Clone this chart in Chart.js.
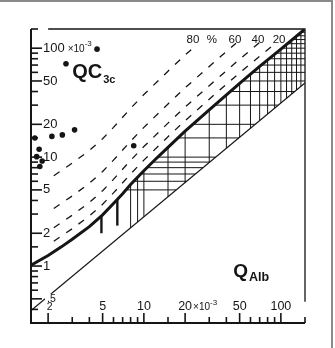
<!DOCTYPE html>
<html><head><meta charset="utf-8">
<script src="https://cdn.jsdelivr.net/npm/chart.js@4/dist/chart.umd.min.js"></script>
<style>html,body{margin:0;padding:0;background:#fff;overflow:hidden}</style>
</head><body>
<canvas id="c" width="335" height="348" style="display:block;width:335px;height:348px"></canvas>
<script>
// ---- data ----
const Q_ALB_TICKS = [1.5,2,3,4,5,6,7,8,9,10,15,20,30,40,50,60,70,80,90,100,150];
const Q_C3C_TICKS = [0.3,0.4,0.5,0.6,0.7,0.8,0.9,1,1.5,2,3,4,5,6,7,8,9,10,15,20,30,40,50,60,70,80,90,100,150];
const X_LABELS = [2,5,10,20,50,100];
const X_LABEL_TEXT = ["2","5","10","20","50","100"];
const Y_LABELS = [0.5,1,2,5,10,20,50,100];
const Y_LABEL_TEXT = [".5","1","2","5","10","20","50","100"];

const thickX = [1.5,2,2.5,3,4,5,6,7,8,10,12,15,20,30,50,70,100,148];
const thickY = [1.02,1.25,1.5,1.76,2.3,2.95,3.75,4.6,5.6,7.5,9.4,12.3,17.3,27.2,47.5,68,98,148];
const lowerX = [1.5,150];
const lowerY = [0.39,48];

const dash20X = [2.2,3,4,5,6,8,10,15,20,30,50,92];
const dash20Y = [1.69,2.2,2.88,3.69,4.69,7.0,9.38,15.4,21.6,34.0,59.4,112];
const dash40X = [2.2,3,4,5,6,8,10,15,20,30,50,70];
const dash40Y = [2.25,2.93,3.83,4.92,6.25,9.33,12.5,20.5,28.8,45.3,79.2,113];
const dash60X = [2.2,3,4,5,6,8,10,15,20,30,47];
const dash60Y = [3.38,4.4,5.75,7.38,9.38,14,18.75,30.75,43.25,68,111];
const dash80X = [2.2,3,4,5,6,8,10,15,20,24];
const dash80Y = [6.75,8.8,11.5,14.75,18.75,28,37.5,61.5,86.5,106];

const dotX = [4.55,2.70,1.60,2.13,2.54,3.12,1.72,1.65,1.81,1.74,8.43];
const dotY = [98,72,15.0,15.5,16.0,17.8,11.8,10.1,9.2,8.2,12.7];

const barX = [4.9,6.4];
const barBottom = [2.0,2.35];

const hatchX = [8,9,10,15,20,30,40,50,60,70,80,90,100,110,120,130,140];
const hatchY = [5,6,7,8,9,10,15,20,30,40,50,60,70,80,90,100,110,120,130,140];

const pctText = ["80","%","60","40","20"];
const pctX = [22.8,31.4,46.2,68,97];
const pctY = 119;

const X_MIN = 1.5, X_MAX = 150, Y_MIN = 0.3, Y_MAX = 150;

// ---- helpers ----
const L = Math.log10;
function interpLog(xs, ys, v){
  let i = 0;
  if (v <= xs[0]) i = 0;
  else if (v >= xs[xs.length-1]) i = xs.length-2;
  else { while (i < xs.length-2 && xs[i+1] < v) i++; }
  const t = (L(v)-L(xs[i]))/(L(xs[i+1])-L(xs[i]));
  return Math.pow(10, L(ys[i]) + t*(L(ys[i+1])-L(ys[i])));
}
const pts = (xs, ys) => xs.map((x,i)=>({x, y: ys[i]}));
const ink = '#151515';

const datasets = [];
datasets.push({data: pts(dotX, dotY), showLine:false, pointRadius:2.8, pointBackgroundColor:ink, pointBorderWidth:0, order:0});
datasets.push({data: pts(thickX, thickY), showLine:true, borderColor:ink, borderWidth:3, pointRadius:0, order:1});
barX.forEach((bx,i)=>{
  datasets.push({data:[{x:bx,y:barBottom[i]},{x:bx,y:interpLog(thickX,thickY,bx)}], showLine:true, borderColor:ink, borderWidth:2.4, pointRadius:0, order:1});
});
[[dash20X,dash20Y],[dash40X,dash40Y],[dash60X,dash60Y],[dash80X,dash80Y]].forEach(([xs,ys])=>{
  datasets.push({data: pts(xs,ys), showLine:true, borderColor:ink, borderWidth:1.3, borderDash:[7,8], pointRadius:0, order:2});
});
datasets.push({data: pts(lowerX, lowerY), showLine:true, borderColor:ink, borderWidth:1.3, pointRadius:0, order:2});
hatchX.forEach(v=>{
  const top = Math.min(Y_MAX, interpLog(thickX,thickY,v));
  const bot = interpLog(lowerX,lowerY,v);
  datasets.push({data:[{x:v,y:bot},{x:v,y:top}], showLine:true, borderColor:ink, borderWidth:1, pointRadius:0, order:3});
});
hatchY.forEach(h=>{
  const left = interpLog(thickY,thickX,h);
  const right = Math.min(X_MAX, interpLog(lowerY,lowerX,h));
  datasets.push({data:[{x:left,y:h},{x:right,y:h}], showLine:true, borderColor:ink, borderWidth:1, pointRadius:0, order:3});
});

const FONT = '"Liberation Sans", Arial, Helvetica, sans-serif';
const framePlugin = {
  id:'frame',
  beforeDraw(chart){
    const c = chart.ctx; c.save(); c.fillStyle='#fff'; c.fillRect(0,0,chart.width,chart.height); c.restore();
  },
  afterDraw(chart){
    const c = chart.ctx, xs = chart.scales.x, ys = chart.scales.y, a = chart.chartArea;
    c.save();
    c.strokeStyle = ink; c.fillStyle = ink;
    // axes
    c.lineWidth = 2;
    c.beginPath(); c.moveTo(a.left, a.top); c.lineTo(a.left, a.bottom); c.lineTo(a.right, a.bottom); c.stroke();
    c.lineWidth = 1.3;
    c.beginPath(); c.moveTo(xs.getPixelForValue(2), a.top); c.lineTo(a.right, a.top); c.lineTo(a.right, ys.getPixelForValue(0.47)); c.stroke();
    // ticks
    c.lineWidth = 1.6;
    Q_C3C_TICKS.forEach(v=>{
      const p = ys.getPixelForValue(v), len = Y_LABELS.includes(v) ? 11 : 7;
      c.beginPath(); c.moveTo(a.left, p); c.lineTo(a.left+len, p); c.stroke();
    });
    Q_ALB_TICKS.forEach(v=>{
      const p = xs.getPixelForValue(v), len = X_LABELS.includes(v) ? 10 : 6;
      c.beginPath(); c.moveTo(p, a.bottom); c.lineTo(p, a.bottom-len); c.stroke();
    });
    // y labels
    c.textBaseline = 'middle'; c.textAlign = 'left';
    Y_LABELS.forEach((v,i)=>{
      const p = ys.getPixelForValue(v), t = Y_LABEL_TEXT[i];
      const small = v < 1;
      c.font = (small ? '10.5px ' : '13px ') + FONT;
      const w = c.measureText(t).width;
      const x0 = a.left + (small ? 16 : 12);
      if (small){ c.fillStyle='#fff'; c.fillRect(x0-2, p-5, w+4, 9); c.fillStyle = ink; }
      c.fillText(t, x0, p);
      if (v === 100){
        c.font = '10px ' + FONT; c.fillText('×10', x0 + w + 3, p+1);
        const w2 = c.measureText('×10').width;
        c.font = '8px ' + FONT; c.fillText('-3', x0 + w + 3 + w2, p-4);
      }
    });
    // x labels
    c.textBaseline = 'alphabetic';
    X_LABELS.forEach((v,i)=>{
      const p = xs.getPixelForValue(v), t = X_LABEL_TEXT[i];
      c.font = (v === 2 ? '10.5px ' : '12.5px ') + FONT; c.textAlign = 'center';
      c.fillText(t, p + (v === 2 ? 1.5 : 0), a.bottom - 13);
      if (v === 20){
        c.font = '12.5px ' + FONT;
        const w = c.measureText(t).width;
        c.textAlign = 'left';
        c.font = '10px ' + FONT; c.fillText('×10', p + w/2 + 1, a.bottom - 13);
        const w2 = c.measureText('×10').width;
        c.font = '8px ' + FONT; c.fillText('-3', p + w/2 + 1 + w2, a.bottom - 18);
      }
    });
    // percent labels
    c.font = '11.5px ' + FONT; c.textAlign = 'center'; c.textBaseline = 'middle';
    pctText.forEach((t,i)=> c.fillText(t, xs.getPixelForValue(pctX[i]), ys.getPixelForValue(pctY)));
    // axis titles
    c.textAlign = 'left'; c.textBaseline = 'alphabetic';
    let tx = xs.getPixelForValue(3.0), ty = ys.getPixelForValue(53);
    c.font = 'bold 20px ' + FONT; c.fillText('QC', tx, ty);
    let tw = c.measureText('QC').width;
    c.font = 'bold 11px ' + FONT; c.fillText('3c', tx + tw + 1, ty + 5);
    tx = xs.getPixelForValue(44.9); ty = ys.getPixelForValue(0.79);
    c.font = 'bold 19px ' + FONT; c.fillText('Q', tx, ty);
    tw = c.measureText('Q').width;
    c.font = 'bold 12.5px ' + FONT; c.fillText('Alb', tx + tw + 1, ty + 4);
    // outer page frame
    c.strokeStyle = '#8a8a8a'; c.lineWidth = 2;
    c.beginPath(); c.moveTo(0, 1); c.lineTo(332, 1); c.lineTo(332, chart.height); c.stroke();
    c.restore();
  }
};

new Chart(document.getElementById('c'), {
  type:'scatter',
  data:{datasets},
  options:{
    responsive:false, animation:false, devicePixelRatio:1,
    layout:{padding:{left:31, right:30, top:29, bottom:25}},
    plugins:{legend:{display:false}, tooltip:{enabled:false}},
    elements:{line:{tension:0, fill:false}},
    scales:{
      x:{type:'logarithmic', min:X_MIN, max:X_MAX, display:false},
      y:{type:'logarithmic', min:Y_MIN, max:Y_MAX, display:false}
    }
  },
  plugins:[framePlugin]
});
</script>
</body></html>
